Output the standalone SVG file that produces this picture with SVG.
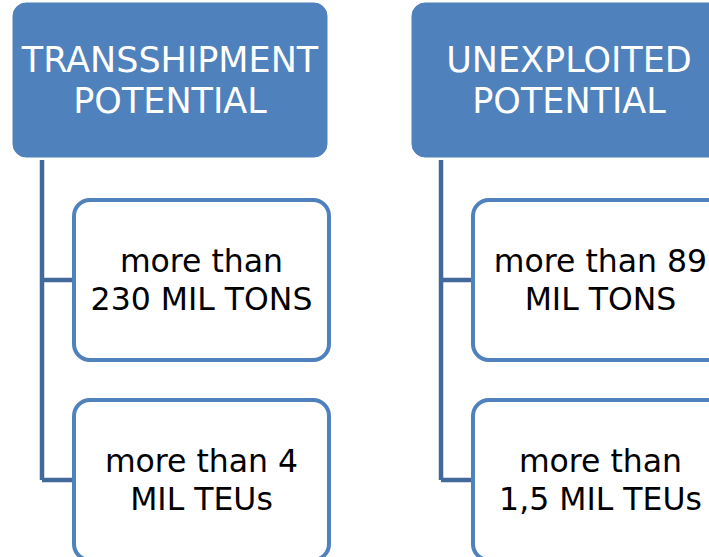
<svg xmlns="http://www.w3.org/2000/svg" width="709" height="557" viewBox="0 0 709 557">
<style>
.hdr{fill:#4F81BD;stroke:#4F81BD;stroke-width:1}
.box{fill:#FFFFFF;stroke:#4F81BD;stroke-width:4}
.conn{fill:none;stroke:#41699B;stroke-width:4.5;stroke-linejoin:miter}
.ht{font-family:"DejaVu Sans",sans-serif;font-size:35px;fill:#FFFFFF;text-anchor:middle}
.bt{font-family:"DejaVu Sans",sans-serif;font-size:31.5px;fill:#000000;text-anchor:middle}
</style>
<rect width="709" height="557" fill="#FFFFFF"/>
<g id="connectors">
<path class="conn" d="M42,160 V480 M42,280 H74 M42,480 H74"/>
<path class="conn" d="M441,160 V480 M441,280 H473 M441,480 H473"/>
</g>
<g id="h1">
<rect class="hdr" x="13" y="3" width="314" height="154" rx="13"/>
<text class="ht" x="170" y="72">TRANSSHIPMENT</text>
<text class="ht" x="170" y="113">POTENTIAL</text>
</g>
<g id="h2">
<rect class="hdr" x="412" y="3" width="314" height="154" rx="13"/>
<text class="ht" x="569" y="72">UNEXPLOITED</text>
<text class="ht" x="569" y="113">POTENTIAL</text>
</g>
<g id="b1">
<rect class="box" x="74" y="200" width="255" height="160" rx="16"/>
<text class="bt" x="201.5" y="272">more than</text>
<text class="bt" x="201.5" y="310">230 MIL TONS</text>
</g>
<g id="b2">
<rect class="box" x="74" y="400" width="255" height="160" rx="16"/>
<text class="bt" x="201.5" y="472">more than 4</text>
<text class="bt" x="201.5" y="510">MIL TEUs</text>
</g>
<g id="b3">
<rect class="box" x="473" y="200" width="255" height="160" rx="16"/>
<text class="bt" x="600.5" y="272">more than 89</text>
<text class="bt" x="600.5" y="310">MIL TONS</text>
</g>
<g id="b4">
<rect class="box" x="473" y="400" width="255" height="160" rx="16"/>
<text class="bt" x="600.5" y="472">more than</text>
<text class="bt" x="600.5" y="510">1,5 MIL TEUs</text>
</g>
</svg>
